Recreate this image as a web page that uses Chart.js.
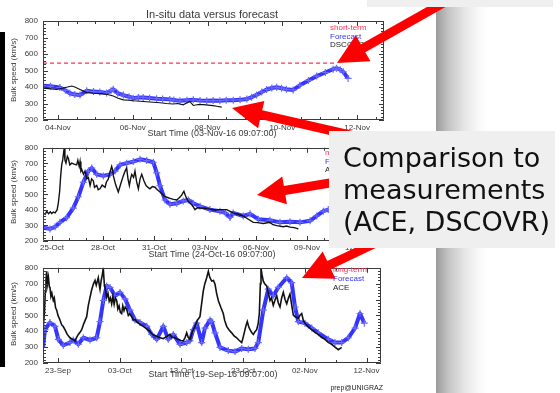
<!DOCTYPE html>
<html>
<head>
<meta charset="utf-8">
<script src="https://cdn.jsdelivr.net/npm/chart.js@4.4.1/dist/chart.umd.min.js"></script>
<style>
  html, body { margin: 0; padding: 0; background: #fff; }
  #wrap { position: relative; width: 560px; height: 393px; overflow: hidden; background: #fff; }
  canvas { position: absolute; left: 0; }
  #ov { position: absolute; left: 0; top: 0; pointer-events: none; }
</style>
</head>
<body>
<div id="wrap">
  <canvas id="c1" width="400" height="140" style="top:0px"></canvas>
  <canvas id="c2" width="400" height="122" style="top:138px"></canvas>
  <canvas id="c3" width="400" height="135" style="top:258px"></canvas>
  <svg id="ov" width="560" height="393" xmlns="http://www.w3.org/2000/svg">
    <defs>
      <linearGradient id="shade" x1="0" x2="1" y1="0" y2="0">
        <stop offset="0" stop-color="#9b9b9b"/>
        <stop offset="0.1" stop-color="#c4c4c4"/>
        <stop offset="0.23" stop-color="#e6e6e6"/>
        <stop offset="0.34" stop-color="#f8f8f8"/>
        <stop offset="0.42" stop-color="#ffffff"/>
      </linearGradient>
    </defs>
    <rect x="0" y="32" width="5" height="335" fill="#000"/>
    <rect x="436" y="7" width="124" height="386" fill="url(#shade)"/>
    <g id="arrows" fill="#ff0000"></g>
    <rect x="329" y="131" width="226" height="117" fill="#efefef"/>
    <g font-family="'DejaVu Sans', Verdana, sans-serif" font-size="27" fill="#111">
      <text x="343" y="167">Comparison to</text>
      <text x="343" y="199">measurements</text>
      <text x="343" y="231">(ACE, DSCOVR)</text>
    </g>
    <rect x="367" y="0" width="186" height="7" fill="#efefef"/>
  </svg>
</div>
<script>
// ---------- panel 1: short-term forecast, 03-Nov-16 start (days since 03-Nov 00:00)
const p1TickDays = [1, 3, 5, 7, 9];
const p1TickLabels = ['04-Nov', '06-Nov', '08-Nov', '10-Nov', '12-Nov'];
const p1ForecastDays = [0.6,0.8,1.05,1.2,1.32,1.45,1.59,1.77,1.95,2.12,2.3,2.42,2.48,2.6,2.75,2.9,3.01,3.15,3.28,3.45,3.64,3.8,3.99,4.1,4.26,4.45,4.62,4.8,4.98,5.15,5.33,5.5,5.69,5.87,6.05,6.18,6.31,6.45,6.58,6.72,6.85,6.98,7.11,7.29,7.47,7.7,7.92,8.15,8.36,8.45,8.55,8.63,8.76];
const p1ForecastSpeed = [408,404,397,380,362,354,352,377,372,370,364,378,386,362,351,341,332,337,337,333,329,327,325,321,316,320,322,318,317,318,317,320,320,322,327,338,352,370,385,394,398,393,386,382,410,440,466,488,508,514,505,492,452];
const p1DscovrDays = [0.6,0.75,0.97,1.1,1.23,1.37,1.45,1.59,1.77,1.95,2.12,2.3,2.48,2.61,2.75,2.9,3.01,3.2,3.37,3.55,3.73,3.9,4.08,4.2,4.35,4.45,4.53,4.62,4.75,4.89,5.02,5.15,5.25,5.38];
const p1DscovrSpeed = [392,390,385,392,398,406,400,385,366,362,360,356,346,332,322,320,317,314,311,308,305,300,297,300,292,304,311,288,294,293,290,287,283,278];
const p1ThresholdDays = [0.6, 8.45];
const p1ThresholdSpeed = [545, 545];

// ---------- panel 2: medium-term forecast, 24-Oct-16 start (days since 24-Oct 00:00)
const p2TickDays = [1, 4, 7, 10, 13, 16, 19];
const p2TickLabels = ['25-Oct', '28-Oct', '31-Oct', '03-Nov', '06-Nov', '09-Nov', '12-Nov'];
const p2ForecastDays = [0.47,0.88,1.18,1.47,1.86,2.25,2.55,2.84,3.14,3.34,3.63,4.02,4.41,4.71,5.0,5.39,5.78,6.18,6.57,6.96,7.16,7.35,7.65,7.94,8.34,8.72,9.02,9.31,9.71,10.29,10.88,11.2,11.47,11.66,12.25,12.65,13.14,13.82,14.41,15.0,15.59,16.18,16.57,16.96,17.25];
const p2ForecastSpeed = [285,278,291,320,350,412,485,577,650,670,629,619,629,650,690,701,711,726,718,707,639,557,464,437,443,458,464,443,423,402,392,380,352,381,361,375,340,334,320,324,320,330,361,392,402];
const p2AceDays = [0.47,0.6,0.69,0.8,0.9,0.98,1.08,1.18,1.3,1.37,1.45,1.51,1.57,1.63,1.71,1.76,1.82,1.9,1.96,2.05,2.16,2.3,2.45,2.52,2.6,2.65,2.7,2.75,2.85,2.94,3.05,3.14,3.24,3.33,3.43,3.5,3.63,3.72,3.82,3.95,4.12,4.2,4.31,4.4,4.51,4.58,4.61,4.75,4.9,5.05,5.19,5.3,5.39,5.47,5.55,5.62,5.69,5.8,5.88,5.98,6.08,6.18,6.28,6.4,6.53,6.65,6.76,6.9,7.06,7.2,7.35,7.5,7.65,7.8,7.94,8.15,8.34,8.5,8.63,8.7,8.76,8.84,8.92,9.05,9.22,9.32,9.41,9.55,9.71,10.0,10.29,10.6,10.88,11.28,11.45,11.66,11.95,12.25,12.55,12.84,13.1,13.43,13.82,14.0,14.22,14.61,14.8,15.0,15.25,15.49];
const p2AceSpeed = [381,372,391,376,388,377,386,381,400,443,520,619,690,722,794,720,701,745,732,690,701,695,690,720,680,711,650,660,630,650,600,608,557,600,588,545,557,530,536,560,546,580,598,640,680,650,619,560,515,570,619,650,670,600,557,600,629,610,650,580,536,600,629,590,557,545,536,550,546,530,515,500,485,480,474,468,464,480,495,510,520,495,474,450,433,418,402,414,412,410,405,400,402,402,392,381,372,361,340,320,318,313,320,305,299,292,296,289,286,278];

// ---------- panel 3: long-term forecast, 19-Sep-16 start (days since 19-Sep 00:00)
const p3TickDays = [4, 14, 24, 34, 44, 54];
const p3TickLabels = ['23-Sep', '03-Oct', '13-Oct', '23-Oct', '02-Nov', '12-Nov'];
const p3ForecastDays = [1.57,1.89,2.7,3.51,4.05,4.86,5.94,6.48,7.29,8.1,9.19,10.27,10.81,11.34,11.89,12.43,13.24,14.05,14.86,15.67,16.48,17.29,18.38,19.19,20.0,21.07,21.88,22.69,23.77,24.86,25.39,25.93,26.48,27.29,27.82,28.64,28.91,29.45,30.26,31.6,32.69,33.77,34.84,35.93,36.46,37.27,38.08,38.89,39.7,41.07,41.88,42.41,42.95,44.03,45.12,46.19,47.81,48.89,49.98,51.05,52.14,52.95,53.64];
const p3ForecastSpeed = [298,410,455,431,349,312,329,345,318,359,345,359,461,594,686,676,624,645,604,533,471,455,431,380,349,431,349,380,318,329,340,410,451,329,420,471,461,390,298,278,272,292,286,292,329,533,665,624,676,737,706,553,461,451,420,390,349,329,329,359,420,512,451];
const p3AceDays = [1.57,1.8,1.95,2.05,2.17,2.3,2.45,2.6,2.7,2.85,3.0,3.24,3.4,3.6,3.79,4.0,4.32,4.6,4.85,5.13,5.5,5.94,6.3,6.76,7.0,7.29,7.6,7.84,8.2,8.65,8.9,9.19,9.45,9.72,10.0,10.2,10.53,10.7,10.81,11.0,11.2,11.34,11.5,11.7,11.89,12.1,12.3,12.5,12.7,12.9,13.1,13.3,13.51,13.7,13.9,14.1,14.32,14.5,14.7,14.9,15.13,15.4,15.6,15.94,16.2,16.5,16.76,17.1,17.4,17.82,18.2,18.5,18.91,19.3,19.6,20.0,20.4,20.7,21.07,21.5,21.8,22.15,22.5,22.8,23.24,23.6,23.9,24.31,24.6,24.86,25.1,25.39,25.8,26.2,26.6,27.01,27.3,27.55,27.8,28.1,28.37,28.6,28.91,29.2,29.45,29.7,29.98,30.4,30.79,31.0,31.34,31.7,32.15,32.5,32.96,33.3,33.77,34.0,34.31,34.5,34.68,34.9,35.12,35.4,35.66,35.9,36.2,36.45,36.63,36.8,36.9,37.05,37.27,37.5,37.82,38.1,38.36,38.6,38.89,39.2,39.45,39.7,39.98,40.25,40.52,40.8,41.07,41.35,41.6,41.9,42.14,42.5,42.95,43.2,43.5,43.75,44.03,44.5,45.12,45.6,46.19,46.7,47.27,47.8,48.36,48.9,49.43,49.98];
const p3AceSpeed = [400,520,650,720,778,700,740,680,676,620,640,594,610,550,533,500,471,440,430,410,380,359,350,339,360,380,395,410,450,492,560,614,660,696,720,690,737,690,665,720,760,798,700,660,614,640,590,610,573,620,570,610,594,540,560,520,512,560,530,553,540,500,510,492,470,475,461,450,440,431,420,410,400,380,375,369,360,358,353,365,372,380,360,362,353,348,342,339,360,390,362,349,400,431,470,492,580,655,700,737,778,740,716,720,696,640,594,550,512,470,431,410,390,372,359,345,329,360,410,440,461,430,410,392,380,395,410,450,512,700,798,760,716,700,686,640,594,610,563,600,624,580,553,610,645,600,573,610,635,560,502,490,482,500,512,470,451,430,410,395,380,362,349,330,318,300,284,298];

// speed axis (km/s)
const speedMin = 200, speedMax = 800, speedStep = 100, speedMinor = 20;

const FONT = "'Liberation Sans', Arial, sans-serif";
const TEXT = '#3a3a3a';
const BLUE = '#3434ff';
const RED = '#ff3358';

const pts = (xs, ys) => xs.map((x, i) => ({ x, y: ys[i] }));

// IDL-style box: frame on all four sides with inward major/minor ticks
const frameTicks = {
  id: 'frameTicks',
  afterDatasetsDraw(chart, args, o) {
    const { ctx, chartArea: a } = chart;
    const xs = chart.scales.x, ys = chart.scales.y;
    ctx.save();
    ctx.strokeStyle = '#3a3a3a';
    ctx.lineWidth = 1;
    ctx.beginPath();
    ctx.rect(Math.round(a.left) + 0.5, Math.round(a.top) + 0.5,
             Math.round(a.right - a.left) - 1, Math.round(a.bottom - a.top) - 1);
    const first = o.majors[0];
    for (let k = Math.ceil((xs.min - first) / o.minor); ; k++) {
      const v = first + k * o.minor;
      if (v > xs.max + 1e-9) break;
      const major = o.majors.some(m => Math.abs(m - v) < 1e-6);
      const len = major ? 5 : 3;
      const px = Math.round(xs.getPixelForValue(v)) + 0.5;
      ctx.moveTo(px, a.bottom); ctx.lineTo(px, a.bottom - len);
      ctx.moveTo(px, a.top); ctx.lineTo(px, a.top + len);
    }
    for (let v = speedMin; v <= speedMax; v += speedMinor) {
      const len = (v % speedStep === 0) ? 5 : 3;
      const py = Math.round(ys.getPixelForValue(v)) + 0.5;
      ctx.moveTo(a.left, py); ctx.lineTo(a.left + len, py);
      ctx.moveTo(a.right, py); ctx.lineTo(a.right - len, py);
    }
    ctx.stroke();
    ctx.restore();
  }
};

// titles, axis captions and the in-plot legend
const panelText = {
  id: 'panelText',
  afterDraw(chart, args, o) {
    const ctx = chart.ctx;
    for (const t of o.items) {
      ctx.save();
      ctx.font = `${t.size || 8}px ${FONT}`;
      ctx.fillStyle = t.color || TEXT;
      ctx.textAlign = t.align || 'center';
      ctx.textBaseline = 'middle';
      ctx.translate(t.x, t.y);
      if (t.rot) ctx.rotate(t.rot);
      ctx.fillText(t.text, 0, 0);
      ctx.restore();
    }
  }
};

function forecastSet(data) {
  return {
    label: 'Forecast', data, borderColor: BLUE, borderWidth: 4, borderJoinStyle: 'round',
    pointStyle: 'cross', pointRadius: 3.5, pointBorderWidth: 1.2,
    pointBorderColor: '#6a6aff', pointBackgroundColor: BLUE, tension: 0, order: 2
  };
}
function measuredSet(label, data, width) {
  return {
    label, data, borderColor: '#111', borderWidth: width, pointRadius: 0, tension: 0, order: 1
  };
}

function makePanel(id, p) {
  return new Chart(document.getElementById(id), {
    type: 'line',
    data: { datasets: p.datasets },
    plugins: [frameTicks, panelText],
    options: {
      responsive: false, animation: false, events: [],
      layout: { padding: { top: p.padTop, right: p.padRight, left: 0, bottom: 0 } },
      plugins: {
        legend: { display: false }, tooltip: { enabled: false },
        frameTicks: { majors: p.ticks, minor: p.minor },
        panelText: { items: p.texts }
      },
      scales: {
        x: {
          type: 'linear', min: p.xMin, max: p.xMax,
          afterBuildTicks: s => { s.ticks = p.ticks.map(v => ({ value: v })); },
          afterFit: s => { s.height = p.xHeight; },
          grid: { display: false, drawTicks: false }, border: { display: false },
          ticks: {
            autoSkip: false, maxRotation: 0, padding: p.xPad, color: TEXT,
            font: { family: FONT, size: 8 },
            callback: v => { const i = p.ticks.indexOf(v); return i >= 0 ? p.labels[i] : ''; }
          }
        },
        y: {
          type: 'linear', min: speedMin, max: speedMax,
          afterFit: s => { s.width = 43; },
          grid: { display: false, drawTicks: false }, border: { display: false },
          ticks: { stepSize: speedStep, padding: 5, color: TEXT, font: { family: FONT, size: 8 } }
        }
      }
    }
  });
}

const yCaption = 'Bulk speed (km/s)';

makePanel('c1', {
  xMin: 0.6, xMax: 9.72, ticks: p1TickDays, labels: p1TickLabels, minor: 0.5,
  padTop: 21, padRight: 16, xHeight: 20, xPad: 3,
  datasets: [
    measuredSet('DSCOVR', pts(p1DscovrDays, p1DscovrSpeed), 1.1),
    forecastSet(pts(p1ForecastDays, p1ForecastSpeed)),
    { label: 'short-term', data: pts(p1ThresholdDays, p1ThresholdSpeed), borderColor: RED,
      borderWidth: 1.2, borderDash: [4, 3], pointRadius: 0, order: 3 }
  ],
  texts: [
    { text: 'In-situ data versus forecast', x: 212, y: 15, size: 11 },
    { text: 'Start Time (03-Nov-16 09:07:00)', x: 212, y: 133.5, size: 9 },
    { text: yCaption, x: 14, y: 70, rot: -Math.PI / 2 },
    { text: 'short-term', x: 330, y: 28, align: 'left', color: RED },
    { text: 'Forecast', x: 330, y: 37, align: 'left', color: BLUE },
    { text: 'DSCOVR', x: 330, y: 45, align: 'left', color: '#222' }
  ]
});

makePanel('c2', {
  xMin: 0.47, xMax: 20.53, ticks: p2TickDays, labels: p2TickLabels, minor: 1,
  padTop: 6, padRight: 16, xHeight: 19, xPad: 2,
  datasets: [
    measuredSet('ACE', pts(p2AceDays, p2AceSpeed), 1.4),
    forecastSet(pts(p2ForecastDays, p2ForecastSpeed))
  ],
  texts: [
    { text: 'Start Time (24-Oct-16 09:07:00)', x: 212, y: 117, size: 9 },
    { text: yCaption, x: 14, y: 54, rot: -Math.PI / 2 },
    { text: 'medium-term', x: 325, y: 15, align: 'left', color: RED },
    { text: 'Forecast', x: 325, y: 24, align: 'left', color: BLUE },
    { text: 'ACE', x: 325, y: 32, align: 'left', color: '#222' }
  ]
});

makePanel('c3', {
  xMin: 1.57, xMax: 56.35, ticks: p3TickDays, labels: p3TickLabels, minor: 5,
  padTop: 7, padRight: 19, xHeight: 30, xPad: 3,
  datasets: [
    measuredSet('ACE', pts(p3AceDays, p3AceSpeed), 1.6),
    forecastSet(pts(p3ForecastDays, p3ForecastSpeed))
  ],
  texts: [
    { text: 'Start Time (19-Sep-16 09:07:00)', x: 213, y: 117, size: 9 },
    { text: yCaption, x: 14, y: 56, rot: -Math.PI / 2 },
    { text: 'long-term', x: 333, y: 12, align: 'left', color: RED },
    { text: 'Forecast', x: 333, y: 21, align: 'left', color: BLUE },
    { text: 'ACE', x: 333, y: 30, align: 'left', color: '#222' },
    { text: 'prep@UNIGRAZ', x: 383, y: 130, size: 7, align: 'right', color: '#222' }
  ]
});

// callout arrows: tail -> tip, shaft width, head length, head width
const arrowSpecs = [
  [452, -2, 337, 63, 9, 30, 30],
  [385, 143, 232, 108, 9, 30, 28],
  [360, 178, 257, 195, 9, 28, 28],
  [380, 241, 302, 278, 9, 30, 30]
];
const g = document.getElementById('arrows');
for (const [tx, ty, px, py, s, hl, hw] of arrowSpecs) {
  const L = Math.hypot(px - tx, py - ty);
  const ux = (px - tx) / L, uy = (py - ty) / L;
  const nx = -uy, ny = ux;
  const bx = px - ux * hl, by = py - uy * hl;
  const P = [
    [tx + nx * s / 2, ty + ny * s / 2], [bx + nx * s / 2, by + ny * s / 2],
    [bx + nx * hw / 2, by + ny * hw / 2], [px, py],
    [bx - nx * hw / 2, by - ny * hw / 2], [bx - nx * s / 2, by - ny * s / 2],
    [tx - nx * s / 2, ty - ny * s / 2]
  ];
  const poly = document.createElementNS('http://www.w3.org/2000/svg', 'polygon');
  poly.setAttribute('points', P.map(q => q[0].toFixed(1) + ',' + q[1].toFixed(1)).join(' '));
  g.appendChild(poly);
}
</script>
</body>
</html>
